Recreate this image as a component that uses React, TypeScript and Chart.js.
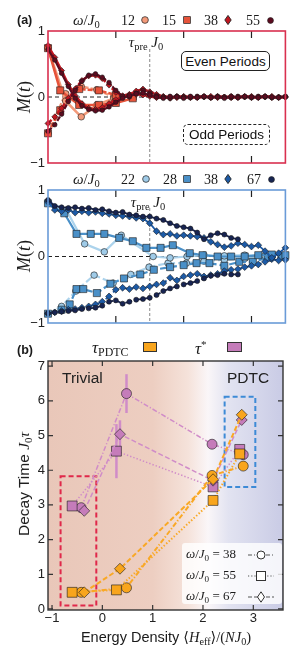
import React, { useEffect, useRef } from 'react';
import { Chart, registerables } from 'chart.js';
Chart.register(...registerables);

// ---------------- DATA ----------------
// shared time grid (t J0 units scaled so tau_pre J0 = 1.5)
const T36 = [0, 0.1, 0.2, 0.3, 0.4, 0.5, 0.6, 0.7, 0.8, 0.9, 1.0, 1.1, 1.2, 1.3, 1.4, 1.5, 1.6, 1.7, 1.8, 1.9, 2.0, 2.1, 2.2, 2.3, 2.4, 2.5, 2.6, 2.7, 2.8, 2.9, 3.0, 3.1, 3.2, 3.3, 3.4, 3.5];
const T29 = [0, 0.1, 0.2, 0.3, 0.4, 0.5, 0.6, 0.7, 0.8, 0.9, 1.0, 1.1, 1.2, 1.3, 1.4, 1.5, 1.6, 1.7, 1.8, 1.9, 2.0, 2.1, 2.2, 2.3, 2.4, 2.5, 2.6, 2.7, 2.8];
const TAU_PRE = 1.5;

// panel (a) top: omega/J0 = 12, 15, 38, 55
const R55_EVEN = [0.72, 0.56, 0.36, 0.16, -0.02, -0.13, -0.19, -0.21, -0.2, -0.15, -0.08, -0.02, 0.02, 0.05, 0.06, 0.03, 0.0, -0.02, 0.01, 0.0, -0.02, 0.01, -0.01, 0.01, -0.01, 0.0, -0.02, 0.01, -0.01, 0.01, 0.0, -0.01, 0.01, 0.0, -0.01, 0.0];
const R55_ODD = [-0.52, -0.42, -0.26, -0.07, 0.1, 0.24, 0.33, 0.35, 0.3, 0.22, 0.1, 0.01, 0.0, 0.06, 0.1, 0.06, 0.02, 0.0, -0.02, 0.01, 0.0, -0.01, 0.01, 0.0, -0.01, 0.01, 0.0, -0.01, 0.01, 0.0, -0.01, 0.01, 0.0, -0.01, 0.0, 0.01];
const R38_EVEN = [0.78, 0.6, 0.4, 0.19, 0.02, -0.1, -0.17, -0.19, -0.16, -0.1, -0.04, 0.0, 0.03, 0.04, 0.03, 0.01, -0.01, 0.0, -0.02, 0.01, 0.0, -0.01, 0.0, 0.01, -0.01, 0.01, 0.0, -0.01, 0.0, 0.01, -0.01, 0.0, 0.01, -0.01, 0.0, 0.0];
const R38_ODD = [-0.4, -0.3, -0.17, -0.02, 0.12, 0.25, 0.32, 0.33, 0.28, 0.18, 0.07, 0.02, 0.04, 0.09, 0.12, 0.08, 0.04, 0.01, 0.0, -0.01, 0.01, 0.0, -0.01, 0.0, 0.01, -0.01, 0.0, 0.01, -0.01, 0.0, 0.01, -0.01, 0.0, 0.01, -0.01, 0.0];
const R15_T = [0, 0.18, 0.46, 0.75, 1.0, 1.25];
const R15_EVEN = [0.74, 0.1, -0.12, -0.12, -0.09, -0.02];
const R15_ODD = [-0.55, -0.2, 0.12, 0.1, 0.03, 0.01];
const R12_T = [0, 0.26, 0.49, 0.72, 0.97];
const R12_EVEN = [0.74, -0.06, -0.3, -0.12, -0.02];
const R12_ODD = [-0.55, 0.05, 0.16, 0.11, 0.0];

// panel (a) bottom: omega/J0 = 22, 28, 38, 67
const B67_EVEN = [0.85, 0.76, 0.74, 0.73, 0.74, 0.72, 0.73, 0.7, 0.71, 0.68, 0.66, 0.67, 0.63, 0.62, 0.6, 0.6, 0.57, 0.55, 0.5, 0.46, 0.44, 0.42, 0.36, 0.26, 0.32, 0.35, 0.33, 0.28, 0.26];
const B67_ODD = [-0.85, -0.84, -0.83, -0.82, -0.81, -0.79, -0.78, -0.77, -0.74, -0.68, -0.66, -0.71, -0.68, -0.65, -0.64, -0.62, -0.58, -0.52, -0.48, -0.45, -0.42, -0.4, -0.37, -0.33, -0.29, -0.28, -0.26, -0.27, -0.27];
const B38_EVEN = [0.82, 0.7, 0.68, 0.7, 0.66, 0.68, 0.66, 0.67, 0.65, 0.64, 0.62, 0.61, 0.6, 0.58, 0.57, 0.5, 0.38, 0.33, 0.34, 0.31, 0.32, 0.31, 0.3, 0.28, 0.22, 0.18, 0.14, 0.16, 0.2, 0.18, 0.15, 0.17, 0.08, -0.02, 0.05, 0.13];
const B38_ODD = [-0.86, -0.84, -0.82, -0.8, -0.79, -0.77, -0.75, -0.72, -0.68, -0.6, -0.5, -0.47, -0.49, -0.46, -0.48, -0.45, -0.42, -0.4, -0.32, -0.36, -0.3, -0.28, -0.26, -0.3, -0.28, -0.26, -0.22, -0.2, -0.19, -0.16, -0.14, -0.12, -0.08, -0.04, -0.06, -0.05];
const B28_T_EVEN = [0, 0.24, 0.42, 0.63, 0.83, 1.05, 1.25, 1.45, 1.66, 1.84, 2.09, 2.28, 2.5, 2.7, 2.9, 3.1, 3.3, 3.5];
const B28_EVEN = [0.8, 0.65, 0.34, 0.34, 0.34, 0.28, 0.23, 0.13, 0.13, 0.17, 0.05, 0.02, 0.0, 0.0, 0.0, 0.02, 0.03, 0.02];
const B28_T_ODD = [0, 0.2, 0.32, 0.42, 0.52, 0.72, 0.92, 1.12, 1.36, 1.56, 1.8, 2.0, 2.19, 2.38, 2.6, 2.82, 3.02, 3.24, 3.44];
const B28_ODD = [-0.86, -0.8, -0.72, -0.49, -0.49, -0.55, -0.41, -0.33, -0.27, -0.2, -0.16, -0.13, -0.1, -0.1, -0.14, -0.08, -0.08, -0.02, 0.0];
const B22_T_EVEN = [0, 0.27, 0.54, 0.83, 1.08, 1.55, 1.8, 2.05, 2.3, 2.6, 2.9, 3.2];
const B22_EVEN = [0.82, 0.7, 0.19, 0.07, 0.32, 0.0, -0.02, 0.0, 0.02, 0.01, 0.02, 0.01];
const B22_T_ODD = [0, 0.2, 0.41, 0.68, 0.96, 1.22, 1.49, 1.77, 2.04, 2.3, 2.6, 2.9, 3.2];
const B22_ODD = [-0.86, -0.75, -0.52, -0.28, -0.4, -0.27, -0.16, -0.1, -0.1, -0.07, -0.05, -0.03, -0.01];

const M_TICKS = [-1, 0, 1];
const T_TICKS = [1, 2, 3];

// panel (b): energy density vs decay time
const X_38 = [-0.42, 0.48, 2.18, 2.8];
const TPDTC_38 = [0.48, 0.61, 3.85, 4.12];
const TSTAR_38 = [2.92, 6.21, 4.75, 4.45];
const ERR_38 = [0, 0.56, 0, 0];
const X_55 = [-0.6, 0.28, 2.2, 2.73];
const TPDTC_55 = [0.48, 0.55, 3.13, 4.47];
const TSTAR_55 = [2.97, 4.55, 3.52, 4.6];
const ERR_55 = [0, 0.78, 0, 0];
const X_67 = [-0.36, 0.35, 2.2, 2.77];
const TPDTC_67 = [0.48, 1.16, 3.74, 5.6];
const TSTAR_67 = [2.83, 5.04, 3.7, 5.45];
const ERR_67 = [0, 0.4, 0, 0];
const E_TICKS = [-1, 0, 1, 2, 3];
const TAU_TICKS = [0, 1, 2, 3, 4, 5, 6, 7];
const TRIVIAL_BOX = [-0.83, -0.12, 0.1, 3.83];
const PDTC_BOX = [2.43, 3.04, 3.52, 6.12];
const BG_STOPS = [-1.08, 1.0, 1.7, 2.1, 2.5, 3.59];
const BG_COLORS = ['rgb(233,199,185)', 'rgb(237,206,193)', 'rgb(245,226,218)', 'rgb(250,246,248)', 'rgb(226,227,241)', 'rgb(201,203,229)'];

// ---------------- STYLE ----------------
const SANS = '"Liberation Sans", Arial, Helvetica, sans-serif';
const SERIF = '"Liberation Serif", "DejaVu Serif", serif';
const C12 = '#f39a7a', C15 = '#e6533a', C38R = '#c0161f', C55 = '#5c0b1f';
const C22 = '#9fcbe8', C28 = '#4a90c8', C38B = '#1c5aa6', C67 = '#172452';
const ORANGE = '#f8a51d', ORANGE_L = '#f9a825', PURPLE = '#c57cba', PURPLE_L = '#d08cc8';
const DASH_38 = [5, 2, 1.2, 2];
const DASH_55 = [1.4, 2];
const DASH_67 = [5, 2.5];

const fmt = (v: number) => (v < 0 ? '\u2212' + Math.abs(v) : String(v));
const pts = (xs: number[], ys: number[]) => xs.map((x, i) => ({ x, y: ys[i] }));

function ds(xs: number[], ys: number[], fillC: string, lineC: string, style: string, r: number, dash: number[], w: number) {
  return {
    data: pts(xs, ys), showLine: true, borderColor: lineC, backgroundColor: fillC,
    pointBackgroundColor: fillC, pointBorderColor: '#1a1a1a', pointBorderWidth: 0.6,
    pointRadius: r, pointHoverRadius: r, pointStyle: style, borderWidth: w, borderDash: dash,
    tension: 0, fill: false, clip: 6,
  };
}

const framePlugin = {
  id: 'frame',
  beforeDatasetsDraw(chart: any, _a: any, o: any) {
    const { ctx, chartArea: ca, scales } = chart;
    const xs = scales.x, ys = scales.y;
    ctx.save();
    if (o.gradStops) {
      const g = ctx.createLinearGradient(ca.left, 0, ca.right, 0);
      o.gradStops.forEach((v: number, i: number) => {
        const p = (xs.getPixelForValue(v) - ca.left) / (ca.right - ca.left);
        g.addColorStop(Math.min(1, Math.max(0, p)), o.gradColors[i]);
      });
      ctx.fillStyle = g;
      ctx.fillRect(ca.left, ca.top, ca.width, ca.height);
    }
    if (o.zeroLine) {
      const y0 = ys.getPixelForValue(0);
      ctx.strokeStyle = '#222'; ctx.lineWidth = 1; ctx.setLineDash([4, 3]);
      ctx.beginPath(); ctx.moveTo(ca.left, y0); ctx.lineTo(ca.right, y0); ctx.stroke();
    }
    if (o.vline != null) {
      const x = xs.getPixelForValue(o.vline);
      ctx.strokeStyle = '#888'; ctx.lineWidth = 1; ctx.setLineDash([3, 2]);
      ctx.beginPath(); ctx.moveTo(x, ca.top + o.vlineTop); ctx.lineTo(x, ca.bottom); ctx.stroke();
    }
    if (o.boxes) {
      o.boxes.forEach((b: any) => {
        const x0 = xs.getPixelForValue(b.r[0]), x1 = xs.getPixelForValue(b.r[1]);
        const y0 = ys.getPixelForValue(b.r[2]), y1 = ys.getPixelForValue(b.r[3]);
        ctx.strokeStyle = b.color; ctx.lineWidth = 2; ctx.setLineDash([5, 3]);
        ctx.strokeRect(x0, y1, x1 - x0, y0 - y1);
      });
    }
    if (o.errorBars) {
      ctx.setLineDash([]);
      o.errorBars.forEach((e: any) => {
        ctx.strokeStyle = e.color; ctx.lineWidth = 2.5;
        e.x.forEach((xv: number, i: number) => {
          if (!e.err[i]) return;
          const px = xs.getPixelForValue(xv);
          ctx.beginPath();
          ctx.moveTo(px, ys.getPixelForValue(e.y[i] - e.err[i]));
          ctx.lineTo(px, ys.getPixelForValue(e.y[i] + e.err[i]));
          ctx.stroke();
        });
      });
    }
    ctx.restore();
  },
  afterDatasetsDraw(chart: any, _a: any, o: any) {
    const { ctx, chartArea: ca, scales } = chart;
    const xs = scales.x, ys = scales.y;
    ctx.save();
    ctx.setLineDash([]);
    ctx.strokeStyle = o.tickColor; ctx.lineWidth = 1.2;
    const L = o.tickLen;
    (o.xTicks || []).forEach((v: number) => {
      const p = xs.getPixelForValue(v);
      ctx.beginPath(); ctx.moveTo(p, ca.bottom); ctx.lineTo(p, ca.bottom - L);
      ctx.moveTo(p, ca.top); ctx.lineTo(p, ca.top + L); ctx.stroke();
    });
    (o.yTicks || []).forEach((v: number) => {
      const p = ys.getPixelForValue(v);
      ctx.beginPath(); ctx.moveTo(ca.left, p); ctx.lineTo(ca.left + L, p);
      ctx.moveTo(ca.right, p); ctx.lineTo(ca.right - L, p); ctx.stroke();
    });
    ctx.strokeStyle = o.color; ctx.lineWidth = o.width;
    ctx.strokeRect(ca.left, ca.top, ca.width, ca.height);
    ctx.restore();
  },
};

function yAxis(min: number, max: number, ticks: number[]) {
  return {
    type: 'linear', min, max,
    afterBuildTicks: (s: any) => { s.ticks = ticks.map((v) => ({ value: v })); },
    afterFit: (s: any) => { s.width = 48; s.paddingTop = 0; s.paddingBottom = 0; },
    grid: { display: false, drawTicks: false }, border: { display: false },
    ticks: { padding: 3, color: '#222', font: { family: SANS, size: 13 }, callback: (v: any) => fmt(Number(v)) },
  };
}

function timeChart(datasets: any[], frameColor: string, padTop: number, padBottom: number) {
  return {
    type: 'scatter',
    data: { datasets },
    options: {
      animation: false, responsive: false, events: [],
      layout: { padding: { left: 0, right: 5, top: padTop, bottom: padBottom } },
      plugins: {
        legend: { display: false }, tooltip: { enabled: false },
        frame: { color: frameColor, width: 1.6, tickColor: '#222', tickLen: 7, xTicks: T_TICKS, zeroLine: true, vline: TAU_PRE, vlineTop: 18 },
      },
      scales: { x: { type: 'linear', min: 0, max: 3.5, display: false }, y: yAxis(-1, 1, M_TICKS) },
    },
    plugins: [framePlugin],
  } as any;
}

function makeA() {
  return timeChart([
    ds(T36, R55_EVEN, C55, C55, 'circle', 2.3, [], 2.2),
    ds(T36, R55_ODD, C55, C55, 'circle', 2.3, [5, 2], 2.2),
    ds(T36, R38_EVEN, C38R, C38R, 'rectRot', 3, [], 2.5),
    ds(T36, R38_ODD, C38R, C38R, 'rectRot', 3, [5, 2], 2.5),
    ds(R15_T, R15_EVEN, C15, C15, 'rect', 5, [], 2.5),
    ds(R15_T, R15_ODD, C15, C15, 'rect', 5, [5, 2], 2.5),
    ds(R12_T, R12_EVEN, C12, C12, 'circle', 3.3, [], 2.5),
    ds(R12_T, R12_ODD, C12, C12, 'circle', 3.3, [5, 2], 2.5),
  ], '#d9304f', 31, 12);
}

function makeB() {
  return timeChart([
    ds(T29, B67_EVEN, C67, C67, 'circle', 2.5, [], 1.8),
    ds(T29, B67_ODD, C67, C67, 'circle', 2.5, [7, 3], 1.8),
    ds(T36, B38_EVEN, C38B, C38B, 'rectRot', 3.4, [], 1.8),
    ds(T36, B38_ODD, C38B, C38B, 'rectRot', 3.4, [7, 3], 1.8),
    ds(B28_T_EVEN, B28_EVEN, C28, C28, 'rect', 5, [], 2.2),
    ds(B28_T_ODD, B28_ODD, C28, C28, 'rect', 5, [7, 3], 2.2),
    ds(B22_T_EVEN, B22_EVEN, C22, '#acd3ec', 'circle', 3.3, [], 2.2),
    ds(B22_T_ODD, B22_ODD, C22, '#acd3ec', 'circle', 3.3, [7, 3], 2.2),
  ], '#6a9bd8', 15, 13);
}

function makeC() {
  return {
    type: 'scatter',
    data: {
      datasets: [
        ds(X_67, TPDTC_67, ORANGE, ORANGE_L, 'rectRot', 5.5, DASH_67, 2),
        ds(X_55, TPDTC_55, ORANGE, ORANGE_L, 'rect', 7, DASH_55, 2),
        ds(X_38, TPDTC_38, ORANGE, ORANGE_L, 'circle', 5, DASH_38, 2),
        ds(X_67, TSTAR_67, PURPLE, PURPLE_L, 'rectRot', 5.5, DASH_67, 1.5),
        ds(X_55, TSTAR_55, PURPLE, PURPLE_L, 'rect', 7, DASH_55, 1.5),
        ds(X_38, TSTAR_38, PURPLE, PURPLE_L, 'circle', 5, DASH_38, 1.5),
      ],
    },
    options: {
      animation: false, responsive: false, events: [],
      layout: { padding: { left: 0, right: 8, top: 25, bottom: 0 } },
      plugins: {
        legend: { display: false }, tooltip: { enabled: false },
        frame: {
          color: '#333', width: 1.4, tickColor: '#333', tickLen: 5, xTicks: E_TICKS, yTicks: TAU_TICKS,
          gradStops: BG_STOPS, gradColors: BG_COLORS,
          boxes: [{ r: TRIVIAL_BOX, color: '#e0284a' }, { r: PDTC_BOX, color: '#3d8ad6' }],
          errorBars: [
            { x: X_38, y: TSTAR_38, err: ERR_38, color: PURPLE_L },
            { x: X_55, y: TSTAR_55, err: ERR_55, color: PURPLE_L },
            { x: X_67, y: TSTAR_67, err: ERR_67, color: PURPLE_L },
          ],
        },
      },
      scales: {
        x: {
          type: 'linear', min: -1.08, max: 3.59,
          afterBuildTicks: (s: any) => { s.ticks = E_TICKS.map((v) => ({ value: v })); },
          afterFit: (s: any) => { s.height = 48; s.paddingLeft = 0; s.paddingRight = 0; },
          grid: { display: false, drawTicks: false }, border: { display: false },
          ticks: { padding: 1, color: '#222', font: { family: SANS, size: 13 }, callback: (v: any) => fmt(Number(v)) },
        },
        y: yAxis(-0.03, 7.15, TAU_TICKS),
      },
    },
    plugins: [framePlugin],
  } as any;
}

// ---------------- HTML helpers ----------------
const Sub = ({ children }: any) => <span style={{ fontSize: '0.7em', verticalAlign: '-0.3em', fontStyle: 'normal' }}>{children}</span>;
const I = ({ children }: any) => <span style={{ fontFamily: SERIF, fontStyle: 'italic' }}>{children}</span>;

function Txt({ x, y, children, style, center, rotate }: any) {
  const tr = rotate ? 'translate(-50%,-50%) rotate(-90deg)' : center ? 'translate(-50%,-50%)' : 'translateY(-50%)';
  return <div style={{ position: 'absolute', left: x, top: y, transform: tr, lineHeight: 1, whiteSpace: 'nowrap', ...style }}>{children}</div>;
}

function Mk({ x, y, shape, fill, size = 8, stroke = '#222' }: any) {
  return (
    <svg style={{ position: 'absolute', left: x - size / 2, top: y - size / 2 }} width={size} height={size} viewBox="0 0 10 10">
      {shape === 'circle' && <circle cx={5} cy={5} r={4.2} fill={fill} stroke={stroke} strokeWidth={0.9} />}
      {shape === 'square' && <rect x={0.8} y={0.8} width={8.4} height={8.4} fill={fill} stroke={stroke} strokeWidth={0.9} />}
      {shape === 'diamond' && <polygon points="5,0.4 8.2,5 5,9.6 1.8,5" fill={fill} stroke={stroke} strokeWidth={0.9} />}
    </svg>
  );
}

function Sample({ x, y, dash, shape }: any) {
  return (
    <svg style={{ position: 'absolute', left: x, top: y - 6 }} width={28} height={12}>
      <line x1={1} y1={6} x2={27} y2={6} stroke="#555" strokeWidth={1.2} strokeDasharray={dash} />
      {shape === 'circle' && <circle cx={14} cy={6} r={4} fill="#fff" stroke="#333" strokeWidth={1} />}
      {shape === 'square' && <rect x={9.5} y={1.5} width={9} height={9} fill="#fff" stroke="#333" strokeWidth={1} />}
      {shape === 'diamond' && <polygon points="14,0.8 17.5,6 14,11.2 10.5,6" fill="#fff" stroke="#333" strokeWidth={1} />}
    </svg>
  );
}

const omega = (n: string) => (<><I>ω</I><span style={{ fontFamily: SERIF }}>/</span><I>J</I><Sub><span style={{ fontFamily: SERIF }}>0</span></Sub><span style={{ fontFamily: SERIF }}>{n}</span></>);

export default function App() {
  const refA = useRef<HTMLCanvasElement>(null);
  const refB = useRef<HTMLCanvasElement>(null);
  const refC = useRef<HTMLCanvasElement>(null);
  useEffect(() => {
    const charts = [new Chart(refA.current!, makeA()), new Chart(refB.current!, makeB()), new Chart(refC.current!, makeC())];
    return () => charts.forEach((c) => c.destroy());
  }, []);

  const num = { fontFamily: SERIF, fontSize: 14 };
  const boxTxt = { fontFamily: SANS, fontSize: 13.5, color: '#111' };
  return (
    <div style={{ position: 'absolute', left: 0, top: 0, width: 291, height: 658, overflow: 'hidden', background: '#fff', fontFamily: SANS, color: '#1a1a1a' }}>
      <canvas ref={refA} width={291} height={175} style={{ position: 'absolute', left: 0, top: 0, width: 291, height: 175 }} />
      <canvas ref={refB} width={291} height={161} style={{ position: 'absolute', left: 0, top: 175, width: 291, height: 161 }} />
      <canvas ref={refC} width={291} height={322} style={{ position: 'absolute', left: 0, top: 336, width: 291, height: 322 }} />

      {/* panel (a) header */}
      <Txt x={17} y={20} style={{ fontWeight: 'bold', fontSize: 12.5 }}>(a)</Txt>
      <Txt x={73} y={21} style={{ fontSize: 15 }}>{omega('')}</Txt>
      <Txt x={121} y={21} style={num}>12</Txt>
      <Mk x={145} y={20} shape="circle" fill={C12} />
      <Txt x={162} y={21} style={num}>15</Txt>
      <Mk x={187} y={20} shape="square" fill={C15} />
      <Txt x={204} y={21} style={num}>38</Txt>
      <Mk x={228} y={20} shape="diamond" fill={C38R} size={10} />
      <Txt x={246} y={21} style={num}>55</Txt>
      <Mk x={270} y={20} shape="circle" fill={C55} size={7} />

      <Txt x={24} y={97} rotate style={{ fontFamily: SERIF, fontSize: 18 }}><I>M</I>(<I>t</I>)</Txt>
      <Txt x={146} y={43} center style={{ fontSize: 15 }}><I>τ</I><Sub><span style={{ fontFamily: SERIF }}>pre</span></Sub><I> J</I><Sub><span style={{ fontFamily: SERIF }}>0</span></Sub></Txt>
      <div style={{ position: 'absolute', left: 181, top: 51, width: 89, height: 20, boxSizing: 'border-box', border: '1.3px solid #222', borderRadius: 5, background: '#fff', display: 'flex', alignItems: 'center', justifyContent: 'center', ...boxTxt }}>Even Periods</div>
      <div style={{ position: 'absolute', left: 183, top: 124, width: 87, height: 21, boxSizing: 'border-box', border: '1.3px dashed #222', borderRadius: 5, background: '#fff', display: 'flex', alignItems: 'center', justifyContent: 'center', ...boxTxt }}>Odd Periods</div>

      {/* second panel header */}
      <Txt x={73} y={180} style={{ fontSize: 15 }}>{omega('')}</Txt>
      <Txt x={121} y={180} style={num}>22</Txt>
      <Mk x={146} y={179} shape="circle" fill={C22} />
      <Txt x={163} y={180} style={num}>28</Txt>
      <Mk x={187} y={179} shape="square" fill={C28} />
      <Txt x={204} y={180} style={num}>38</Txt>
      <Mk x={228} y={179} shape="diamond" fill={C38B} size={10} />
      <Txt x={247} y={180} style={num}>67</Txt>
      <Mk x={271} y={179} shape="circle" fill={C67} size={7} />

      <Txt x={24} y={256} rotate style={{ fontFamily: SERIF, fontSize: 18 }}><I>M</I>(<I>t</I>)</Txt>
      <Txt x={148} y={203} center style={{ fontSize: 15 }}><I>τ</I><Sub><span style={{ fontFamily: SERIF }}>pre</span></Sub><I> J</I><Sub><span style={{ fontFamily: SERIF }}>0</span></Sub></Txt>

      {/* panel (b) header */}
      <Txt x={17} y={350} style={{ fontWeight: 'bold', fontSize: 12.5 }}>(b)</Txt>
      <Txt x={92} y={349} style={{ fontSize: 17 }}><I>τ</I><Sub><span style={{ fontFamily: SERIF }}>PDTC</span></Sub></Txt>
      <div style={{ position: 'absolute', left: 143, top: 342, width: 14, height: 10, boxSizing: 'border-box', background: ORANGE, border: '1px solid #333' }} />
      <Txt x={195} y={348} style={{ fontSize: 17 }}><I>τ</I><sup style={{ fontFamily: SERIF, fontSize: '0.65em', verticalAlign: '0.5em' }}>*</sup></Txt>
      <div style={{ position: 'absolute', left: 227, top: 342, width: 15, height: 10, boxSizing: 'border-box', background: PURPLE, border: '1px solid #333' }} />

      <Txt x={62} y={378} style={{ fontSize: 15.5, color: '#222' }}>Trivial</Txt>
      <Txt x={227} y={378} style={{ fontSize: 15.5, color: '#222' }}>PDTC</Txt>

      <Txt x={25} y={484} rotate style={{ fontSize: 15.5 }}>Decay Time <I>J</I><Sub><span style={{ fontFamily: SERIF }}>0</span></Sub><I>τ</I></Txt>
      <Txt x={166} y={639} center style={{ fontSize: 14.5 }}>Energy Density <span style={{ fontFamily: SERIF }}>⟨</span><I>H</I><Sub><span style={{ fontFamily: SERIF }}>eff</span></Sub><span style={{ fontFamily: SERIF }}>⟩/(</span><I>NJ</I><Sub><span style={{ fontFamily: SERIF }}>0</span></Sub><span style={{ fontFamily: SERIF }}>)</span></Txt>

      {/* legend box (b) */}
      <div style={{ position: 'absolute', left: 182, top: 543, width: 100, height: 61, background: 'rgba(255,255,255,0.8)', borderRadius: 3 }} />
      <Txt x={186} y={555} style={{ fontSize: 13 }}><I>ω</I><span style={{ fontFamily: SERIF }}>/</span><I>J</I><Sub><span style={{ fontFamily: SERIF }}>0</span></Sub><span style={{ fontFamily: SERIF }}> = 38</span></Txt>
      <Txt x={186} y={576} style={{ fontSize: 13 }}><I>ω</I><span style={{ fontFamily: SERIF }}>/</span><I>J</I><Sub><span style={{ fontFamily: SERIF }}>0</span></Sub><span style={{ fontFamily: SERIF }}> = 55</span></Txt>
      <Txt x={186} y={597} style={{ fontSize: 13 }}><I>ω</I><span style={{ fontFamily: SERIF }}>/</span><I>J</I><Sub><span style={{ fontFamily: SERIF }}>0</span></Sub><span style={{ fontFamily: SERIF }}> = 67</span></Txt>
      <Sample x={247} y={555} dash="4 2 1 2" shape="circle" />
      <Sample x={247} y={576} dash="1.2 2" shape="square" />
      <Sample x={247} y={597} dash="4 2" shape="diamond" />
    </div>
  );
}
